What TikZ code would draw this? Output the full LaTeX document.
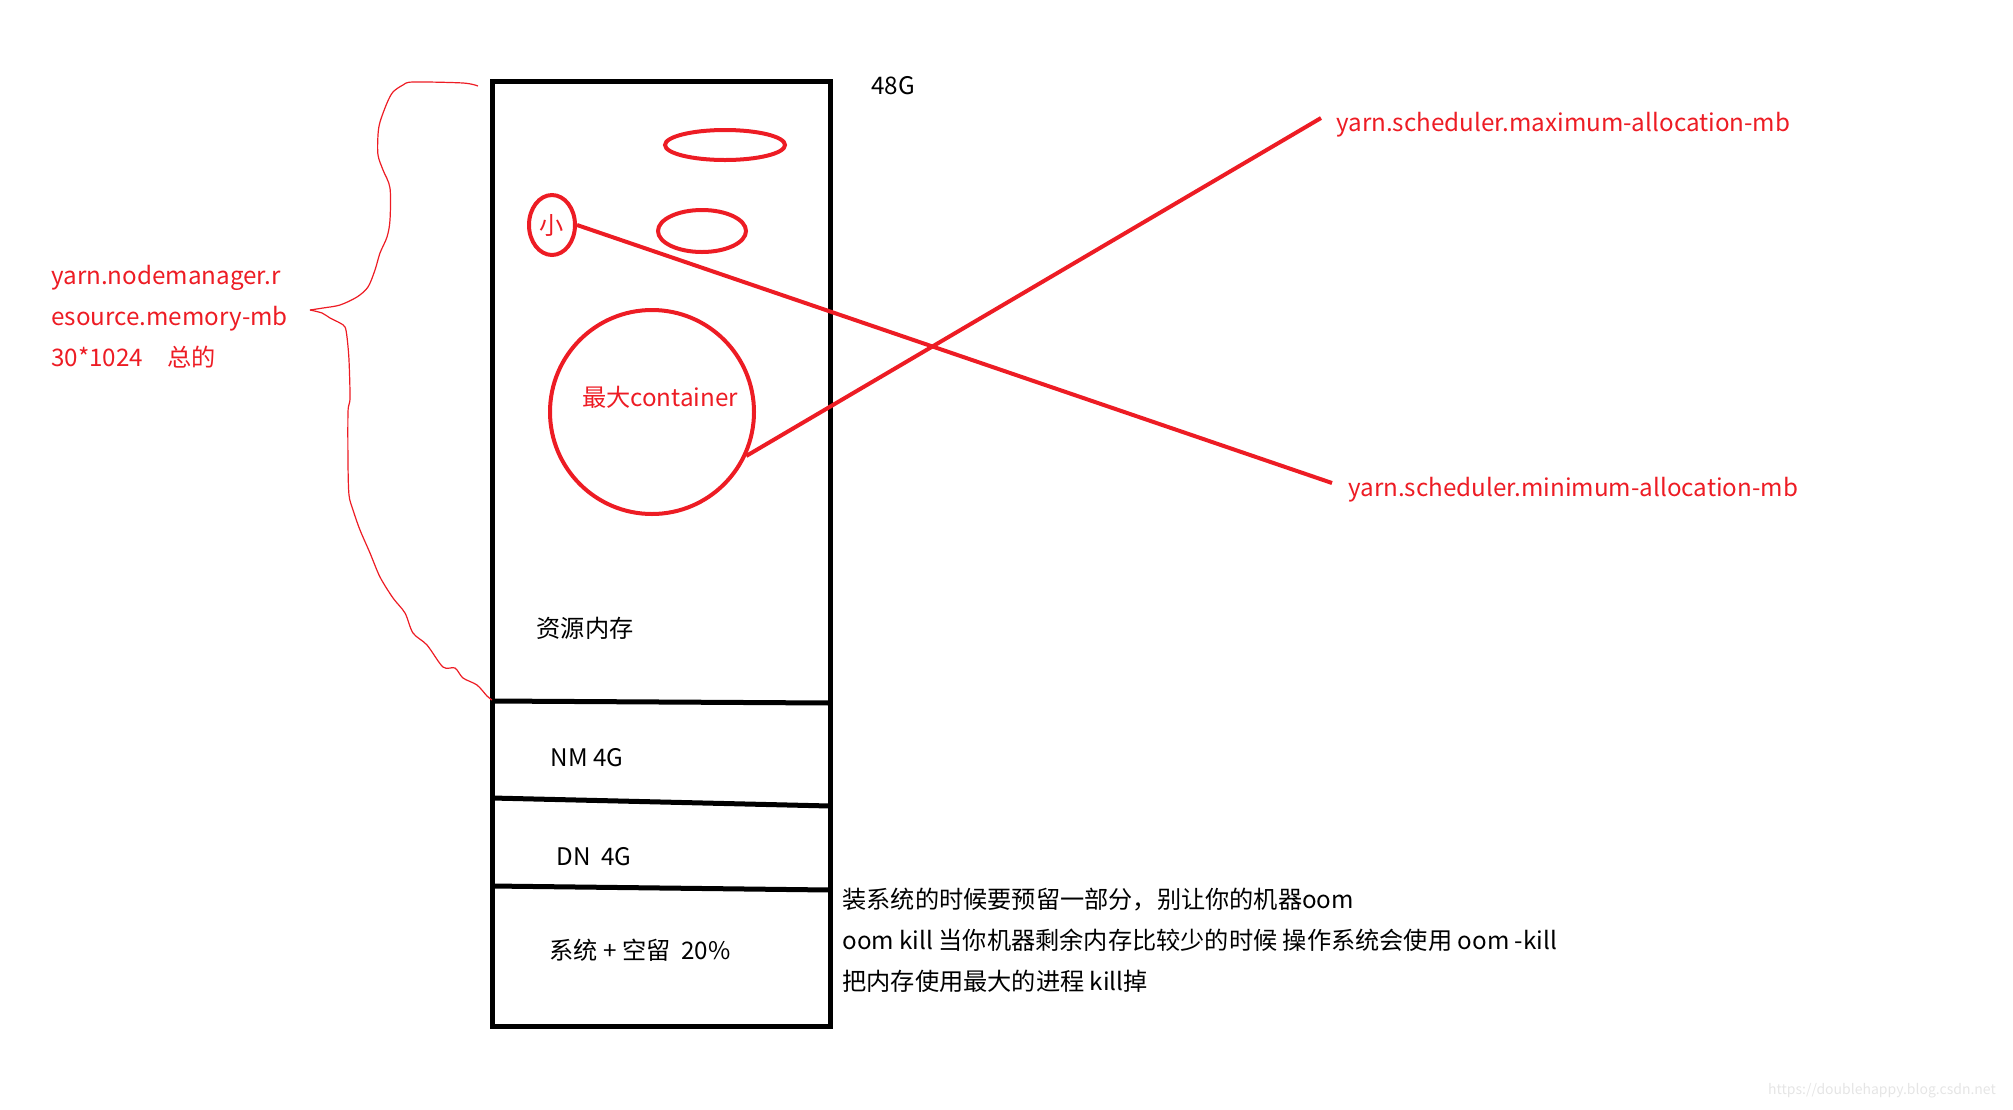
\documentclass[tikz,border=0pt]{standalone}
\usepackage{fontspec}
\setmainfont{Noto Sans CJK SC}
\usepackage{tikz}
\usetikzlibrary{shapes.geometric}
\definecolor{pen}{RGB}{237,28,36}
\tikzstyle{texto}=[inner sep=0pt,font=\fontsize{12.1}{20.5}\selectfont]
\tikzstyle{redtext}=[texto,text=pen]
\tikzstyle{frame}=[line width=2.5pt,black]
\tikzstyle{ring}=[draw=pen,line width=2pt,inner sep=0pt]
\tikzstyle{wire}=[draw=pen,line width=2pt]
\tikzstyle{brace}=[draw=pen,line width=0.6pt]

\begin{document}
\begin{tikzpicture}[x=0.5pt,y=-0.5pt]
    \useasboundingbox (0,0) rectangle (2013,1109);
    \draw [frame] (492,81) rectangle (830,1026);
    \draw [frame] (492,701) -- (830,703);
    \draw [frame] (492,798) -- (830,806);
    \draw [frame] (492,886) -- (830,890);
    \node [texto] (total) at (893,86) {48G};
    \node [texto] (res)   at (585,628) {资源内存};
    \node [texto] (nm)    at (587,758) {NM 4G};
    \node [texto] (dn)    at (594,857) {DN\ \ 4G};
    \node [texto] (sys)   at (640,950) {系统 + 空留\ \ 20\%};
    \node [texto, align=left, anchor=west] (oom) at (842,940)
        {装系统的时候要预留一部分，别让你的机器oom\\oom kill 当你机器剩余内存比较少的时候 操作系统会使用 oom -kill\\把内存使用最大的进程 kill掉};
    \node [ring, ellipse, minimum width=60pt, minimum height=15pt] (c1) at (725,145) {};
    \node [ring, ellipse, minimum width=44pt, minimum height=21pt] (c2) at (702,231) {};
    \node [ring, ellipse, minimum width=23pt, minimum height=30pt, redtext] (small) at (552,225) {小};
    \node [ring, circle, minimum size=102pt] (big) at (652,412) {};
    \node [redtext] (bigt) at (660,397) {最大container};
    \node [redtext, anchor=west] (maxl) at (1336,125) {yarn.scheduler.maximum-allocation-mb};
    \node [redtext, anchor=west] (minl) at (1348,490) {yarn.scheduler.minimum-allocation-mb};
    \coordinate (maxend) at (1321,118);
    \coordinate (minend) at (1332,483);
    \draw [wire] (small.east) -- (minend);
    \draw [wire] (big.-25) -- (maxend);
    \node [redtext, align=left, anchor=west] (rm) at (51,317)
        {yarn.nodemanager.r\\esource.memory-mb\\30*1024\quad 总的};
    \draw [brace] plot [smooth, tension=0.5] coordinates {(478,86) (463,83) (413,82) (403,85) (393,92) (387,103) (380,122) (378,135) (378,155) (383,170) (390,188) (390,220) (387,237) (380,253) (375,270) (368,287) (357,297) (340,305) (323,308) (310,310)};
    \draw [brace] plot [smooth, tension=0.5] coordinates {(310,310) (322,313) (330,318) (340,323) (345,327) (347,337) (349,360) (350,398) (348,412) (348,463) (349,495) (353,510) (360,530) (370,553) (380,577) (393,598) (405,613) (413,633) (427,645) (443,667) (455,668) (463,678) (477,685) (487,696) (492,700)};
    \node [inner sep=0pt, font=\fontsize{7}{8}\selectfont, text=black!10] (mark) at (1882,1091) {https://doublehappy.blog.csdn.net};
\end{tikzpicture}
\end{document}
